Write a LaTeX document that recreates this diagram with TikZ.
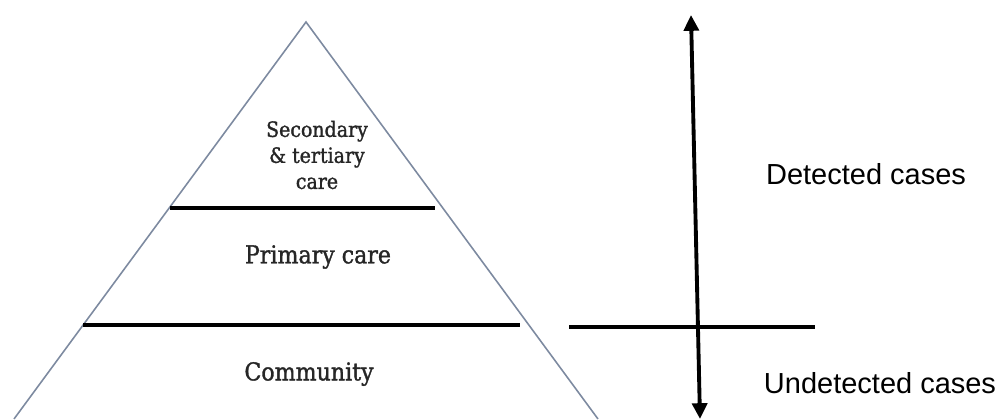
\documentclass[tikz,border=0pt]{standalone}
\usepackage{fontspec}
\setmainfont{DejaVu Serif}
\setsansfont{Liberation Sans}
\newfontfamily\levelfont{DejaVu Serif Condensed}[FakeBold=1.3]
\usetikzlibrary{arrows.meta}
\usetikzlibrary{positioning}
\definecolor{edgegray}{RGB}{125,138,160}
\tikzset {
  % outline of the pyramid
  pyramid edge/.style = {
    draw = edgegray,
    line width = 0.9pt
  },
  % thick line between two levels
  level line/.style = {
    draw = black,
    line width = 2.4pt
  },
  level label/.style = {
    align = center,
    text = black!85,
    inner sep = 0,
    font = \levelfont\fontsize{14}{16}\selectfont
  },
  % the detected / undetected axis
  axis line/.style = {
    draw = black,
    line width = 2.2pt
  },
  side label/.style = {
    font = \sffamily\fontsize{16.5}{19}\selectfont,
    inner sep = 0
  }
}

\begin{document}
\begin{tikzpicture}[x = 0.02cm, y = -0.02cm]
    \useasboundingbox (0,0) rectangle (1000,419);

    \coordinate (apex) at (306,22);
    \coordinate (base-left) at (14,419);
    \coordinate (base-right) at (598,419);
    \coordinate (upper-left) at (170,208);
    \coordinate (upper-right) at (435,208);
    \coordinate (lower-left) at (83,325);
    \coordinate (lower-right) at (520,325);

    \node[level label, font = \levelfont\fontsize{12}{14.8}\selectfont] (secondary) at (317,155) {Secondary\\\& tertiary\\care};
    \node[level label] (primary) at (318,257) {Primary care};
    \node[level label] (community) at (309,374) {Community};

    \draw[pyramid edge] (base-left) -- (apex) -- (base-right);
    \draw[level line] (upper-left) -- (upper-right);
    \draw[level line] (lower-left) -- (lower-right);

    \coordinate (axis-top) at (691,15);
    \coordinate (axis-bottom) at (700,419);
    \coordinate (split-left) at (569,327);
    \coordinate (split-right) at (815,327);

    \draw[axis line, arrows = {Triangle[width = 8.5pt, length = 9pt]-Triangle[width = 8.5pt, length = 9pt]}] (axis-bottom) -- (axis-top);
    \draw[axis line, line width = 1.9pt] (split-left) -- (split-right);

    \node[side label] (detected) at (866,174) {Detected cases};
    \node[side label] (undetected) at (880,383) {Undetected cases};
\end{tikzpicture}
\end{document}
